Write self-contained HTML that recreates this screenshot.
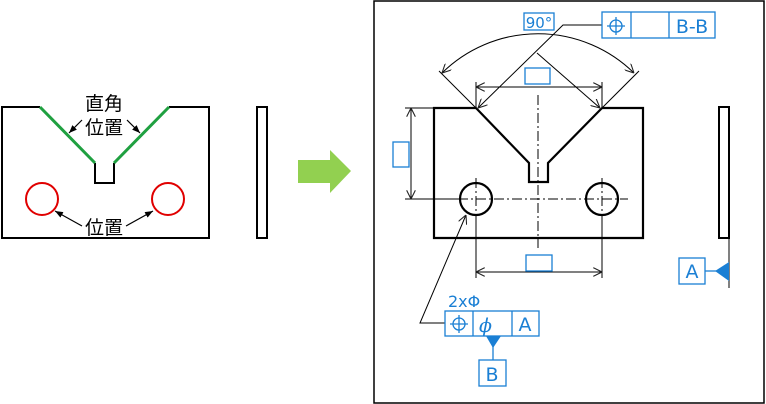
<!DOCTYPE html>
<html><head><meta charset="utf-8"><style>html,body{margin:0;padding:0;background:#fff}svg{display:block}</style></head>
<body>
<svg width="766" height="404" viewBox="0 0 766 404" xmlns="http://www.w3.org/2000/svg" font-family="'DejaVu Sans','Liberation Sans','Noto Sans CJK JP',sans-serif">
<defs>
<marker id="ah" viewBox="0 0 10 10" refX="10" refY="5" markerWidth="9" markerHeight="9" orient="auto-start-reverse" markerUnits="userSpaceOnUse"><path d="M0,0 L10,5 L0,10" fill="none" stroke="#222" stroke-width="1.2"/></marker>
<marker id="af" viewBox="0 0 10 10" refX="10" refY="5" markerWidth="8" markerHeight="8" orient="auto" markerUnits="userSpaceOnUse"><path d="M0,1 L10,5 L0,9 z" fill="#000"/></marker>
</defs>
<!-- Left drawing -->
<polyline points="40,107 2,107 2,238 209,238 209,107 169,107" fill="none" stroke="#000" stroke-width="2"/>
<polyline points="95,163 95,183 114,183 114,163" fill="none" stroke="#000" stroke-width="2"/>
<line x1="40" y1="107" x2="95" y2="163" stroke="#1fa040" stroke-width="3"/>
<line x1="169" y1="107" x2="114" y2="163" stroke="#1fa040" stroke-width="3"/>
<circle cx="42" cy="199" r="16" fill="none" stroke="#e00000" stroke-width="2"/>
<circle cx="168" cy="199" r="16" fill="none" stroke="#e00000" stroke-width="2"/>
<text x="104" y="110" font-size="19" text-anchor="middle" font-family="'Noto Sans CJK JP',sans-serif">直角</text>
<text x="104" y="134" font-size="19" text-anchor="middle" font-family="'Noto Sans CJK JP',sans-serif">位置</text>
<text x="104" y="234" font-size="19" text-anchor="middle" font-family="'Noto Sans CJK JP',sans-serif">位置</text>
<line x1="82" y1="120" x2="69" y2="133" stroke="#000" stroke-width="1.2" marker-end="url(#af)"/>
<line x1="127" y1="120" x2="140" y2="133" stroke="#000" stroke-width="1.2" marker-end="url(#af)"/>
<line x1="82" y1="226" x2="55" y2="211" stroke="#000" stroke-width="1.2" marker-end="url(#af)"/>
<line x1="126" y1="226" x2="153" y2="211" stroke="#000" stroke-width="1.2" marker-end="url(#af)"/>
<rect x="257" y="107" width="10" height="131" fill="none" stroke="#000" stroke-width="2"/>
<!-- green arrow -->
<polygon points="298,160 330,160 330,150 351,171 330,193 330,183 298,183" fill="#92d050"/>
<!-- frame -->
<rect x="374" y="1" width="390" height="402" fill="none" stroke="#000" stroke-width="1.5"/>
<!-- right drawing -->
<polyline points="476,108 434,108 434,238 643,238 643,108 602,108" fill="none" stroke="#000" stroke-width="2.2"/>
<polyline points="476,108 529,163 529,182 548,182 548,163 602,108" fill="none" stroke="#000" stroke-width="2.2"/>
<circle cx="476" cy="199" r="16" fill="none" stroke="#000" stroke-width="2.2"/>
<circle cx="602" cy="199" r="16" fill="none" stroke="#000" stroke-width="2.2"/>
<g stroke="#000" stroke-width="1" stroke-dasharray="10,3,2,3" fill="none">
<line x1="538" y1="95" x2="538" y2="248"/>
<line x1="440" y1="199" x2="628" y2="199"/>
<line x1="476" y1="178" x2="476" y2="220"/>
<line x1="602" y1="178" x2="602" y2="220"/>
</g>
<g stroke="#000" stroke-width="1" fill="none">
<line x1="476" y1="82" x2="476" y2="108"/>
<line x1="602" y1="82" x2="602" y2="108"/>
<line x1="476" y1="87" x2="602" y2="87" marker-start="url(#ah)" marker-end="url(#ah)"/>
<line x1="476" y1="108" x2="439" y2="71"/>
<line x1="602" y1="108" x2="639" y2="71"/>
<path d="M442,73 A137,137 0 0 1 634,73" marker-start="url(#ah)" marker-end="url(#ah)"/>
<line x1="405" y1="108" x2="434" y2="108"/>
<line x1="405" y1="199" x2="460" y2="199"/>
<line x1="411" y1="108" x2="411" y2="199" marker-start="url(#ah)" marker-end="url(#ah)"/>
<line x1="476" y1="215" x2="476" y2="278"/>
<line x1="602" y1="215" x2="602" y2="278"/>
<line x1="476" y1="272" x2="602" y2="272" marker-start="url(#ah)" marker-end="url(#ah)"/>
<polyline points="602,25 563,25 478,108" marker-end="url(#ah)"/>
<line x1="537" y1="53" x2="600" y2="108" marker-end="url(#ah)"/>
<polyline points="445,323 420,323 466,215" marker-end="url(#ah)"/>
</g>
<rect x="719" y="107" width="10" height="131" fill="none" stroke="#000" stroke-width="2"/>
<line x1="729" y1="238" x2="729" y2="288" stroke="#000" stroke-width="1"/>
<!-- blue annotations -->
<g stroke="#1a7fd4" stroke-width="1.3" fill="none">
<rect x="524" y="13" width="30" height="17"/>
<rect x="602" y="12" width="113" height="26"/>
<line x1="631" y1="12" x2="631" y2="38"/><line x1="669" y1="12" x2="669" y2="38"/>
<circle cx="616" cy="26" r="6"/><line x1="616" y1="17" x2="616" y2="35"/><line x1="607" y1="26" x2="625" y2="26"/>
<rect x="525" y="68" width="25" height="16"/>
<rect x="393" y="142" width="16" height="25"/>
<rect x="526" y="255" width="26" height="16"/>
<rect x="445" y="311" width="94" height="25"/>
<line x1="473" y1="311" x2="473" y2="336"/><line x1="512" y1="311" x2="512" y2="336"/>
<circle cx="459" cy="324" r="6"/><line x1="459" y1="315" x2="459" y2="333"/><line x1="450" y1="324" x2="468" y2="324"/>
<line x1="493" y1="345" x2="493" y2="360"/>
<rect x="479" y="360" width="27" height="26"/>
<rect x="679" y="258" width="26" height="26"/>
<line x1="705" y1="271" x2="716" y2="271"/>
</g>
<polygon points="486,336 501,336 493,348" fill="#1a7fd4"/>
<polygon points="715,271 729,262 729,281" fill="#1a7fd4"/>
<g fill="#1a7fd4">
<text x="539" y="28" text-anchor="middle" font-size="15">90°</text>
<text x="692" y="33" text-anchor="middle" font-size="19">B-B</text>
<text x="448" y="307" font-size="16">2xΦ</text>
<text x="479" y="332" font-size="19" font-style="italic" font-family="'DejaVu Serif',serif">ϕ</text>
<text x="525" y="331" text-anchor="middle" font-size="19">A</text>
<text x="492" y="381" text-anchor="middle" font-size="19">B</text>
<text x="692" y="278" text-anchor="middle" font-size="19">A</text>
</g>
</svg>
</body></html>
